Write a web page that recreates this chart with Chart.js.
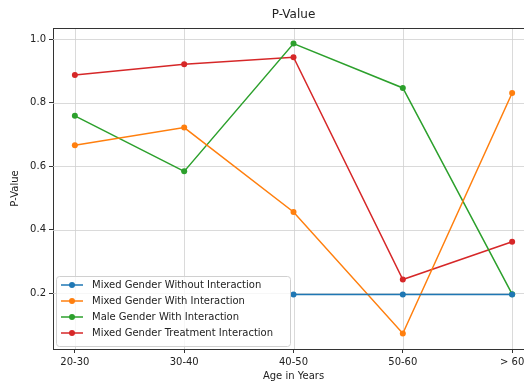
<!DOCTYPE html>
<html>
<head>
<meta charset="utf-8">
<script src="https://cdn.jsdelivr.net/npm/chart.js@4/dist/chart.umd.min.js"></script>
<style>
html,body{margin:0;padding:0;background:#fff;overflow:hidden;width:524px;height:382px;}
#wrap{position:absolute;left:0;top:0;width:545px;height:382px;}
</style>
</head>
<body>
<div id="wrap"><canvas id="c" width="545" height="382"></canvas></div>
<script>
const categories = ["20-30", "30-40", "40-50", "50-60", "> 60"];
const yTicks = [0.2, 0.4, 0.6, 0.8, 1.0];
const seriesNames = ["Mixed Gender Without Interaction", "Mixed Gender With Interaction", "Male Gender With Interaction", "Mixed Gender Treatment Interaction"];
const mixedWithout = [null, null, 0.196, 0.196, 0.196];
const mixedWith = [0.666, 0.722, 0.456, 0.073, 0.831];
const maleWith = [0.759, 0.584, 0.987, 0.847, 0.197];
const mixedTreatment = [0.888, 0.922, 0.944, 0.243, 0.362];
const colors = ["#1f77b4", "#ff7f0e", "#2ca02c", "#d62728"];

const FONT = "'DejaVu Sans', sans-serif";
const allSeries = [mixedWithout, mixedWith, maleWith, mixedTreatment];

const datasets = allSeries.map((arr, i) => ({
  label: seriesNames[i],
  data: arr.map((v, j) => ({x: j, y: v})),
  borderColor: colors[i],
  backgroundColor: colors[i],
  borderWidth: 1.5,
  pointRadius: 3,
  pointBorderWidth: 0,
  pointHoverRadius: 3,
  tension: 0,
  spanGaps: false
}));

const decor = {
  id: 'decor',
  beforeDatasetsDraw(chart) {
    const ctx = chart.ctx;
    const a = chart.chartArea;
    const xs = chart.scales.x, ys = chart.scales.y;
    ctx.save();
    ctx.strokeStyle = '#d0d0d0';
    ctx.lineWidth = 0.8;
    ctx.beginPath();
    categories.forEach((c, i) => {
      const px = Math.round(xs.getPixelForValue(i)) + 0.5;
      ctx.moveTo(px, a.top); ctx.lineTo(px, a.bottom);
    });
    yTicks.forEach(v => {
      const py = Math.round(ys.getPixelForValue(v)) + 0.5;
      ctx.moveTo(a.left, py); ctx.lineTo(a.right, py);
    });
    ctx.stroke();
    ctx.restore();
  },
  afterDraw(chart) {
    const ctx = chart.ctx;
    const a = chart.chartArea;
    ctx.save();
    // top spine
    ctx.strokeStyle = '#333';
    ctx.lineWidth = 1;
    ctx.beginPath();
    ctx.moveTo(a.left, a.top + 0.5); ctx.lineTo(a.right, a.top + 0.5);
    ctx.stroke();
    // title
    ctx.fillStyle = '#222';
    ctx.textAlign = 'center';
    ctx.textBaseline = 'middle';
    ctx.font = '12px ' + FONT;
    const cx = (a.left + a.right) / 2;
    ctx.fillText('P-Value', cx, 15);
    ctx.font = '10px ' + FONT;
    ctx.fillText('Age in Years', cx, 376);
    ctx.save();
    ctx.translate(15, (a.top + a.bottom) / 2);
    ctx.rotate(-Math.PI / 2);
    ctx.fillText('P-Value', 0, 0);
    ctx.restore();
    // legend
    const lx = 56, ly = 276, lw = 234, lh = 70;
    ctx.fillStyle = 'rgba(255,255,255,0.8)';
    ctx.strokeStyle = '#d0d0d0';
    ctx.lineWidth = 1;
    ctx.beginPath();
    if (ctx.roundRect) ctx.roundRect(lx + 0.5, ly + 0.5, lw, lh, 3); else ctx.rect(lx + 0.5, ly + 0.5, lw, lh);
    ctx.fill();
    ctx.stroke();
    const rows = [285, 301, 317, 333];
    ctx.textAlign = 'left';
    ctx.font = '10px ' + FONT;
    seriesNames.forEach((n, i) => {
      const y = rows[i];
      ctx.strokeStyle = colors[i];
      ctx.lineWidth = 1.5;
      ctx.beginPath(); ctx.moveTo(61, y); ctx.lineTo(83, y); ctx.stroke();
      ctx.fillStyle = colors[i];
      ctx.beginPath(); ctx.arc(72, y, 3, 0, Math.PI * 2); ctx.fill();
      ctx.fillStyle = '#222';
      ctx.fillText(n, 92, y + 0.5);
    });
    ctx.restore();
  }
};

new Chart(document.getElementById('c'), {
  type: 'line',
  data: { datasets },
  options: {
    responsive: false,
    animation: false,
    events: [],
    layout: { padding: { left: 0, right: 11, top: 28, bottom: 0 } },
    plugins: { legend: { display: false }, title: { display: false }, tooltip: { enabled: false } },
    scales: {
      x: {
        type: 'linear',
        min: -0.2, max: 4.2,
        afterBuildTicks: s => { s.ticks = categories.map((c, i) => ({value: i})); },
        afterFit: s => { s.height = 33; },
        ticks: {
          callback: v => categories[v],
          font: { family: FONT, size: 10 }, color: '#222', padding: 3, maxRotation: 0, autoSkip: false
        },
        grid: { drawOnChartArea: false, tickColor: '#333', tickLength: 4, drawTicks: true },
        border: { color: '#333', width: 1 }
      },
      y: {
        min: 0.024, max: 1.036,
        afterBuildTicks: s => { s.ticks = yTicks.map(v => ({value: v})); },
        afterFit: s => { s.width = 53; },
        ticks: {
          callback: v => Number(v).toFixed(1),
          font: { family: FONT, size: 10 }, color: '#222', padding: 3
        },
        grid: { drawOnChartArea: false, tickColor: '#333', tickLength: 4, drawTicks: true },
        border: { color: '#333', width: 1 }
      }
    }
  },
  plugins: [decor]
});
</script>
</body>
</html>
